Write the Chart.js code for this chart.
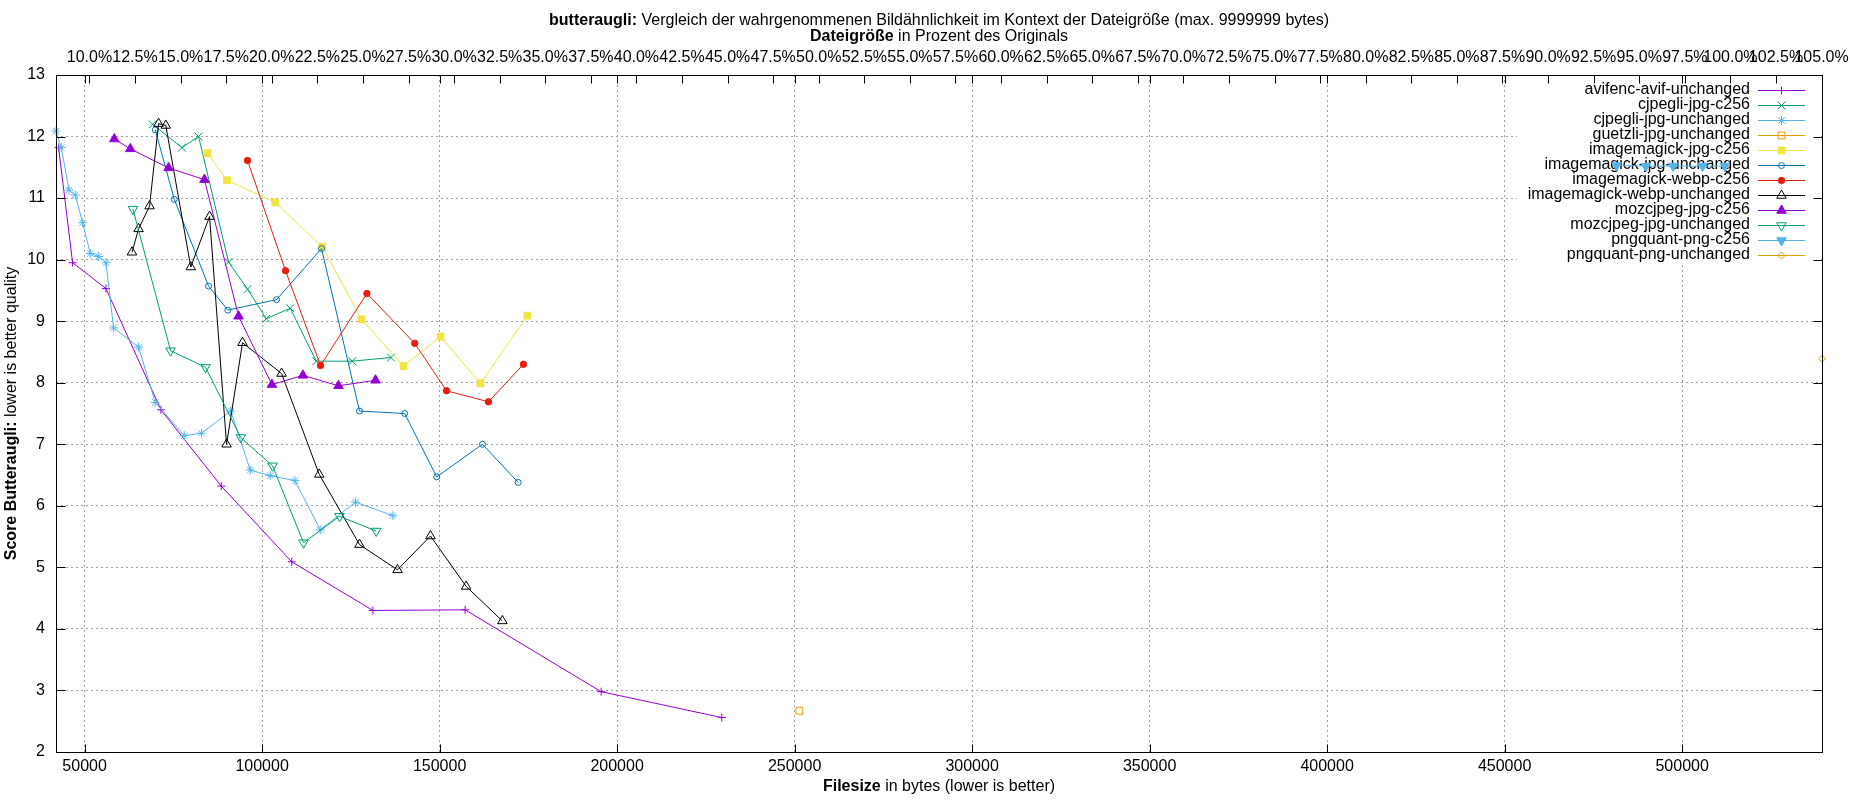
<!DOCTYPE html>
<html><head><meta charset="utf-8">
<script src="https://cdn.jsdelivr.net/npm/chart.js@4.4.1/dist/chart.umd.min.js"></script>
<style>html,body{margin:0;padding:0;background:#fff}canvas{display:block}</style>
</head><body>
<canvas id="c" width="1850" height="800"></canvas>
<script>
const FONT = '"Liberation Sans", Arial, Helvetica, sans-serif';

// ---------- data (bytes, butteraugli score) ----------
const AVIF_BYTES = [42680, 46620, 56030, 71510, 88500, 108350, 131210, 157200, 195500, 229490];
const AVIF_SCORE = [11.82, 9.95, 9.53, 7.56, 6.32, 5.09, 4.30, 4.31, 2.98, 2.56];

const CJPEGLI_C256_BYTES = [69150, 77430, 82100, 90550, 95900, 101170, 107930, 115250, 125390, 136310];
const CJPEGLI_C256_SCORE = [12.20, 11.82, 12.00, 9.96, 9.52, 9.04, 9.21, 8.35, 8.35, 8.41];

const CJPEGLI_UNCH_BYTES = [41946, 43440, 45610, 47380, 49440, 51600, 53940, 56030, 58170, 65210, 69910, 78080, 82920, 91170, 96660, 102290, 109250, 116370, 126310, 136850];
const CJPEGLI_UNCH_SCORE = [12.09, 11.82, 11.13, 11.05, 10.60, 10.10, 10.05, 9.95, 8.89, 8.58, 7.68, 7.14, 7.18, 7.54, 6.58, 6.49, 6.41, 5.61, 6.06, 5.84];

const GUETZLI_BYTES = [251340];
const GUETZLI_SCORE = [2.67];

const IMJPG_C256_BYTES = [84640, 90100, 103700, 116940, 128000, 139830, 150250, 161510, 174750];
const IMJPG_C256_SCORE = [11.73, 11.29, 10.93, 10.21, 9.03, 8.27, 8.75, 7.99, 9.09];

const IMJPG_UNCH_BYTES = [69910, 75260, 84920, 90330, 104070, 116740, 127440, 140170, 149180, 162080, 172130];
const IMJPG_UNCH_SCORE = [12.11, 10.98, 9.57, 9.18, 9.35, 10.18, 7.54, 7.50, 6.47, 7.00, 6.38];

const IMWEBP_C256_BYTES = [95900, 106600, 116460, 129520, 142990, 151940, 163770, 173620];
const IMWEBP_C256_SCORE = [11.61, 9.82, 8.28, 9.45, 8.64, 7.87, 7.69, 8.30];

const IMWEBP_UNCH_BYTES = [63350, 65210, 68300, 70840, 72870, 79910, 85200, 89990, 94490, 105480, 116090, 127440, 138140, 147430, 157490, 167680];
const IMWEBP_UNCH_SCORE = [10.12, 10.50, 10.87, 12.21, 12.18, 9.88, 10.70, 7.00, 8.65, 8.15, 6.51, 5.37, 4.96, 5.51, 4.69, 4.13];

const MOZ_C256_BYTES = [58360, 62870, 73650, 83760, 93370, 102770, 111500, 121530, 131950];
const MOZ_C256_SCORE = [11.96, 11.80, 11.49, 11.30, 9.08, 7.97, 8.12, 7.95, 8.04];

const MOZ_UNCH_BYTES = [63630, 74220, 84070, 93990, 102940, 111670, 121810, 132140];
const MOZ_UNCH_SCORE = [10.82, 8.52, 8.25, 7.11, 6.65, 5.40, 5.83, 5.59];

const PNGQ_C256_BYTES = [481520, 489780, 497460, 505740, 512020];
const PNGQ_C256_SCORE = [11.53, 11.52, 11.52, 11.52, 11.52];

const PNGQ_UNCH_BYTES = [539400];
const PNGQ_UNCH_SCORE = [8.39];

const ORIGINAL_SIZE = 513600; // bytes = 100 %

const X_TICKS = [50000, 100000, 150000, 200000, 250000, 300000, 350000, 400000, 450000, 500000];
const X2_TICKS = [10, 12.5, 15, 17.5, 20, 22.5, 25, 27.5, 30, 32.5, 35, 37.5, 40, 42.5, 45, 47.5, 50, 52.5, 55, 57.5, 60, 62.5, 65, 67.5, 70, 72.5, 75, 77.5, 80, 82.5, 85, 87.5, 90, 92.5, 95, 97.5, 100, 102.5, 105];
const Y_TICKS = [2, 3, 4, 5, 6, 7, 8, 9, 10, 11, 12, 13];

const TITLE = [['butteraugli:', true], [' Vergleich der wahrgenommenen Bildähnlichkeit im Kontext der Dateigröße (max. 9999999 bytes)', false]];
const X2_TITLE = [['Dateigröße', true], [' in Prozent des Originals', false]];
const X_TITLE = [['Filesize', true], [' in bytes (lower is better)', false]];
const Y_TITLE = [['Score Butteraugli:', true], [' lower is better quality', false]];

// ---------- series + styles ----------
const SERIES = [
  {label: 'avifenc-avif-unchanged', bytes: AVIF_BYTES, score: AVIF_SCORE},
  {label: 'cjpegli-jpg-c256', bytes: CJPEGLI_C256_BYTES, score: CJPEGLI_C256_SCORE},
  {label: 'cjpegli-jpg-unchanged', bytes: CJPEGLI_UNCH_BYTES, score: CJPEGLI_UNCH_SCORE},
  {label: 'guetzli-jpg-unchanged', bytes: GUETZLI_BYTES, score: GUETZLI_SCORE},
  {label: 'imagemagick-jpg-c256', bytes: IMJPG_C256_BYTES, score: IMJPG_C256_SCORE},
  {label: 'imagemagick-jpg-unchanged', bytes: IMJPG_UNCH_BYTES, score: IMJPG_UNCH_SCORE},
  {label: 'imagemagick-webp-c256', bytes: IMWEBP_C256_BYTES, score: IMWEBP_C256_SCORE},
  {label: 'imagemagick-webp-unchanged', bytes: IMWEBP_UNCH_BYTES, score: IMWEBP_UNCH_SCORE},
  {label: 'mozcjpeg-jpg-c256', bytes: MOZ_C256_BYTES, score: MOZ_C256_SCORE},
  {label: 'mozcjpeg-jpg-unchanged', bytes: MOZ_UNCH_BYTES, score: MOZ_UNCH_SCORE},
  {label: 'pngquant-png-c256', bytes: PNGQ_C256_BYTES, score: PNGQ_C256_SCORE},
  {label: 'pngquant-png-unchanged', bytes: PNGQ_UNCH_BYTES, score: PNGQ_UNCH_SCORE}
];
const STYLES = [
  {color: '#9400d3', style: 'cross', radius: 4, filled: false, rotation: 0},
  {color: '#009e73', style: 'crossRot', radius: 5.5, filled: false, rotation: 0},
  {color: '#56b4e9', style: 'star', radius: 4.5, filled: false, rotation: 0},
  {color: '#e69f00', style: 'rect', radius: 4.8, filled: false, rotation: 0},
  {color: '#f0e442', style: 'rect', radius: 4.8, filled: true, rotation: 0},
  {color: '#0072b2', style: 'circle', radius: 3, filled: false, rotation: 0},
  {color: '#e51e10', style: 'circle', radius: 3.2, filled: true, rotation: 0},
  {color: '#000000', style: 'triangle', radius: 5.5, filled: false, rotation: 0},
  {color: '#9400d3', style: 'triangle', radius: 5.5, filled: true, rotation: 0},
  {color: '#009e73', style: 'triangle', radius: 5.5, filled: false, rotation: 180},
  {color: '#56b4e9', style: 'triangle', radius: 5.5, filled: true, rotation: 180},
  {color: '#e69f00', style: 'rectRot', radius: 3.5, filled: false, rotation: 0}
];

const ALL_BYTES = SERIES.flatMap(s => s.bytes);
const XMIN = Math.min(...ALL_BYTES);
const XMAX = Math.max(...ALL_BYTES);

const N = SERIES.length;
const datasets = SERIES.map((s, i) => {
  const st = STYLES[i];
  return {
    label: s.label,
    data: s.bytes.map((b, k) => ({x: b, y: s.score[k]})),
    borderColor: st.color,
    backgroundColor: st.color,
    borderWidth: 1,
    pointStyle: st.style,
    pointRadius: st.radius,
    pointHoverRadius: st.radius,
    pointRotation: st.rotation,
    pointBorderColor: st.color,
    pointBackgroundColor: st.filled ? st.color : 'rgba(0,0,0,0)',
    pointBorderWidth: 1,
    tension: 0,
    fill: false,
    clip: false,
    order: N - i
  };
});

// ---------- gnuplot-like decorations ----------
const KEY = {left: 1517, bottom: 265, textRight: 1750, lineX0: 1758, lineX1: 1805, row0: 90, rowStep: 15};

function mixedText(ctx, parts, cx, cy) {
  const widths = parts.map(([t, b]) => { ctx.font = (b ? 'bold ' : '') + '16px ' + FONT; return ctx.measureText(t).width; });
  let x = cx - widths.reduce((a, b) => a + b, 0) / 2;
  ctx.textAlign = 'left';
  ctx.textBaseline = 'middle';
  ctx.fillStyle = '#000';
  parts.forEach(([t, b], i) => { ctx.font = (b ? 'bold ' : '') + '16px ' + FONT; ctx.fillText(t, x, cy); x += widths[i]; });
}

function drawMarker(ctx, st, x, y) {
  ctx.save();
  ctx.strokeStyle = st.color;
  ctx.fillStyle = st.filled ? st.color : 'rgba(0,0,0,0)';
  ctx.lineWidth = 1;
  Chart.helpers.drawPoint(ctx, {pointStyle: st.style, rotation: st.rotation, radius: st.radius, borderWidth: 1}, x, y);
  ctx.restore();
}

const gnuplotPlugin = {
  id: 'gnuplotDeco',
  beforeDatasetsDraw(chart) {
    const {ctx, chartArea: a} = chart;
    ctx.save();
    ctx.fillStyle = '#fff';
    ctx.fillRect(KEY.left, a.top + 1, a.right - KEY.left - 1, KEY.bottom - a.top - 1);
    SERIES.forEach((s, i) => {
      const st = STYLES[i];
      const y = KEY.row0 + KEY.rowStep * i;
      ctx.font = '16px ' + FONT;
      ctx.textAlign = 'right';
      ctx.textBaseline = 'middle';
      ctx.fillStyle = '#000';
      ctx.fillText(s.label, KEY.textRight, y);
      ctx.strokeStyle = st.color;
      ctx.lineWidth = 1;
      ctx.beginPath();
      ctx.moveTo(KEY.lineX0, y + 0.5);
      ctx.lineTo(KEY.lineX1, y + 0.5);
      ctx.stroke();
      drawMarker(ctx, st, (KEY.lineX0 + KEY.lineX1) / 2, y + 0.5);
    });
    ctx.restore();
  },
  afterDraw(chart) {
    const {ctx, chartArea: a, scales} = chart;
    const L = Math.round(a.left) + 0.5, R = Math.round(a.right) + 0.5, T = Math.round(a.top) + 0.5, B = Math.round(a.bottom) + 0.5;
    ctx.save();
    ctx.strokeStyle = '#000';
    ctx.lineWidth = 1;
    ctx.beginPath();
    X_TICKS.forEach(v => {
      const px = Math.round(scales.x.getPixelForValue(v)) + 0.5;
      ctx.moveTo(px, B); ctx.lineTo(px, B - 8);
      ctx.moveTo(px, T); ctx.lineTo(px, T + 8);
    });
    X2_TICKS.forEach(v => {
      const px = Math.round(scales.x2.getPixelForValue(v)) + 0.5;
      ctx.moveTo(px, T); ctx.lineTo(px, T + 8);
    });
    Y_TICKS.forEach(v => {
      const py = Math.round(scales.y.getPixelForValue(v)) + 0.5;
      ctx.moveTo(L, py); ctx.lineTo(L + 9, py);
      ctx.moveTo(R, py); ctx.lineTo(R - 9, py);
    });
    ctx.stroke();
    ctx.strokeRect(L, T, R - L, B - T);

    const cx = (a.left + a.right) / 2;
    const cy = (a.top + a.bottom) / 2;
    mixedText(ctx, TITLE, cx, 21);
    mixedText(ctx, X2_TITLE, cx, 37);
    mixedText(ctx, X_TITLE, cx, 787);
    ctx.save();
    ctx.translate(12, cy);
    ctx.rotate(-Math.PI / 2);
    mixedText(ctx, Y_TITLE, 0, 0);
    ctx.restore();
    ctx.restore();
  }
};

Chart.defaults.font.family = FONT;
Chart.defaults.font.size = 16;
Chart.defaults.color = '#000';

const tickFont = {size: 16, family: FONT};
const noSidePadding = s => { s.paddingLeft = 0; s.paddingRight = 0; };

new Chart(document.getElementById('c'), {
  type: 'line',
  data: {datasets},
  options: {
    responsive: false,
    animation: false,
    devicePixelRatio: 1,
    layout: {padding: {left: 0, right: 28, top: 0, bottom: 0}},
    plugins: {legend: {display: false}, tooltip: {enabled: false}, title: {display: false}},
    scales: {
      x: {
        type: 'linear', position: 'bottom', min: XMIN, max: XMAX,
        afterBuildTicks: s => { s.ticks = X_TICKS.map(v => ({value: v})); },
        afterFit: s => { s.height = 48; noSidePadding(s); },
        ticks: {autoSkip: false, maxRotation: 0, minRotation: 0, padding: 5, color: '#000', font: tickFont, callback: v => String(v)},
        grid: {color: '#a0a0a0', lineWidth: 1, drawTicks: false},
        border: {display: false, dash: [2, 3]}
      },
      x2: {
        type: 'linear', position: 'top', min: XMIN / ORIGINAL_SIZE * 100, max: XMAX / ORIGINAL_SIZE * 100,
        afterBuildTicks: s => { s.ticks = X2_TICKS.map(v => ({value: v})); },
        afterFit: s => { s.height = 75; noSidePadding(s); },
        ticks: {autoSkip: false, maxRotation: 0, minRotation: 0, padding: 8, color: '#000', font: tickFont, callback: v => Number(v).toFixed(1) + '%'},
        grid: {display: false, drawTicks: false},
        border: {display: false}
      },
      y: {
        type: 'linear', position: 'left', min: 2, max: 13,
        afterBuildTicks: s => { s.ticks = Y_TICKS.map(v => ({value: v})); },
        afterFit: s => { s.width = 56; },
        ticks: {autoSkip: false, padding: 11, color: '#000', font: tickFont, callback: v => String(v)},
        grid: {color: '#a0a0a0', lineWidth: 1, drawTicks: false},
        border: {display: false, dash: [2, 3]}
      }
    }
  },
  plugins: [gnuplotPlugin]
});
</script>
</body></html>
